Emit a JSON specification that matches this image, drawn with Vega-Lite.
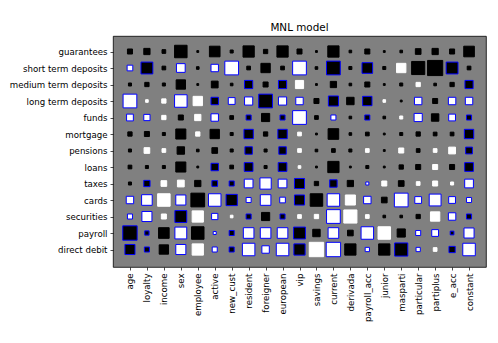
{
"$schema":"https://vega.github.io/schema/vega-lite/v6.json",
"width":373,"height":231,
"padding":{"left":9,"top":22,"right":12,"bottom":0},
"background":"white",
"title":{"text":"MNL model","fontSize":10.4,"fontWeight":"normal","font":"DejaVu Sans","color":"black","offset":3},
"config":{
 "view":{"fill":"#808080","stroke":"black","strokeWidth":0.8},
 "axis":{"domain":false,"grid":false,"ticks":true,"tickSize":3,"tickColor":"black","tickWidth":0.7,"labelFont":"DejaVu Sans","labelFontSize":8.64,"labelColor":"black","labelPadding":3,"title":null}
},
"data":{"values":[
{"r":"guarantees","c":"age","w":0.11,"s":"-","g":0},
{"r":"guarantees","c":"loyalty","w":0.17,"s":"-","g":0},
{"r":"guarantees","c":"income","w":0.06,"s":"-","g":0},
{"r":"guarantees","c":"sex","w":0.68,"s":"-","g":0},
{"r":"guarantees","c":"employee","w":0.015,"s":"-","g":0},
{"r":"guarantees","c":"active","w":0.49,"s":"-","g":0},
{"r":"guarantees","c":"new_cust","w":0.04,"s":"-","g":0},
{"r":"guarantees","c":"resident","w":0.55,"s":"-","g":0},
{"r":"guarantees","c":"foreigner","w":0.08,"s":"-","g":0},
{"r":"guarantees","c":"european","w":0.55,"s":"-","g":0},
{"r":"guarantees","c":"vip","w":0.11,"s":"-","g":0},
{"r":"guarantees","c":"savings","w":0.015,"s":"-","g":0},
{"r":"guarantees","c":"current","w":0.55,"s":"-","g":0},
{"r":"guarantees","c":"derivada","w":0.03,"s":"-","g":0},
{"r":"guarantees","c":"payroll_acc","w":0.11,"s":"-","g":0},
{"r":"guarantees","c":"junior","w":0.015,"s":"-","g":0},
{"r":"guarantees","c":"masparti","w":0.03,"s":"-","g":0},
{"r":"guarantees","c":"particular","w":0.14,"s":"-","g":0},
{"r":"guarantees","c":"partiplus","w":0.17,"s":"-","g":0},
{"r":"guarantees","c":"e_acc","w":0.11,"s":"-","g":0},
{"r":"guarantees","c":"constant","w":0.49,"s":"-","g":0},
{"r":"short term deposits","c":"age","w":0.14,"s":"+","g":1},
{"r":"short term deposits","c":"loyalty","w":0.61,"s":"-","g":1},
{"r":"short term deposits","c":"income","w":0.06,"s":"-","g":0},
{"r":"short term deposits","c":"sex","w":0.33,"s":"+","g":1},
{"r":"short term deposits","c":"employee","w":0.03,"s":"-","g":0},
{"r":"short term deposits","c":"active","w":0.24,"s":"+","g":1},
{"r":"short term deposits","c":"new_cust","w":0.82,"s":"+","g":1},
{"r":"short term deposits","c":"resident","w":0.06,"s":"-","g":0},
{"r":"short term deposits","c":"foreigner","w":0.38,"s":"-","g":0},
{"r":"short term deposits","c":"european","w":0.06,"s":"-","g":0},
{"r":"short term deposits","c":"vip","w":0.82,"s":"+","g":1},
{"r":"short term deposits","c":"savings","w":0.03,"s":"-","g":0},
{"r":"short term deposits","c":"current","w":0.82,"s":"-","g":1},
{"r":"short term deposits","c":"derivada","w":0.04,"s":"-","g":0},
{"r":"short term deposits","c":"payroll_acc","w":0.49,"s":"-","g":1},
{"r":"short term deposits","c":"junior","w":0.04,"s":"-","g":0},
{"r":"short term deposits","c":"masparti","w":0.38,"s":"+","g":0},
{"r":"short term deposits","c":"particular","w":0.75,"s":"-","g":0},
{"r":"short term deposits","c":"partiplus","w":1.0,"s":"-","g":0},
{"r":"short term deposits","c":"e_acc","w":0.61,"s":"-","g":1},
{"r":"short term deposits","c":"constant","w":0.06,"s":"-","g":0},
{"r":"medium term deposits","c":"age","w":0.04,"s":"-","g":0},
{"r":"medium term deposits","c":"loyalty","w":0.08,"s":"-","g":0},
{"r":"medium term deposits","c":"income","w":0.04,"s":"-","g":0},
{"r":"medium term deposits","c":"sex","w":0.38,"s":"-","g":0},
{"r":"medium term deposits","c":"employee","w":0.015,"s":"-","g":0},
{"r":"medium term deposits","c":"active","w":0.2,"s":"-","g":0},
{"r":"medium term deposits","c":"new_cust","w":0.03,"s":"-","g":0},
{"r":"medium term deposits","c":"resident","w":0.29,"s":"-","g":1},
{"r":"medium term deposits","c":"foreigner","w":0.11,"s":"-","g":0},
{"r":"medium term deposits","c":"european","w":0.29,"s":"-","g":1},
{"r":"medium term deposits","c":"vip","w":0.29,"s":"+","g":0},
{"r":"medium term deposits","c":"savings","w":0.015,"s":"-","g":0},
{"r":"medium term deposits","c":"current","w":0.17,"s":"-","g":0},
{"r":"medium term deposits","c":"derivada","w":0.03,"s":"-","g":0},
{"r":"medium term deposits","c":"payroll_acc","w":0.11,"s":"-","g":0},
{"r":"medium term deposits","c":"junior","w":0.015,"s":"-","g":0},
{"r":"medium term deposits","c":"masparti","w":0.04,"s":"-","g":0},
{"r":"medium term deposits","c":"particular","w":0.08,"s":"+","g":0},
{"r":"medium term deposits","c":"partiplus","w":0.03,"s":"-","g":0},
{"r":"medium term deposits","c":"e_acc","w":0.08,"s":"-","g":0},
{"r":"medium term deposits","c":"constant","w":0.29,"s":"-","g":1},
{"r":"long term deposits","c":"age","w":0.82,"s":"+","g":1},
{"r":"long term deposits","c":"loyalty","w":0.03,"s":"+","g":0},
{"r":"long term deposits","c":"income","w":0.08,"s":"+","g":0},
{"r":"long term deposits","c":"sex","w":0.68,"s":"+","g":1},
{"r":"long term deposits","c":"employee","w":0.38,"s":"+","g":0},
{"r":"long term deposits","c":"active","w":0.24,"s":"-","g":1},
{"r":"long term deposits","c":"new_cust","w":0.2,"s":"+","g":1},
{"r":"long term deposits","c":"resident","w":0.29,"s":"+","g":1},
{"r":"long term deposits","c":"foreigner","w":0.82,"s":"-","g":1},
{"r":"long term deposits","c":"european","w":0.29,"s":"+","g":1},
{"r":"long term deposits","c":"vip","w":0.24,"s":"+","g":1},
{"r":"long term deposits","c":"savings","w":0.11,"s":"-","g":0},
{"r":"long term deposits","c":"current","w":0.44,"s":"-","g":1},
{"r":"long term deposits","c":"derivada","w":0.24,"s":"-","g":0},
{"r":"long term deposits","c":"payroll_acc","w":0.38,"s":"-","g":1},
{"r":"long term deposits","c":"junior","w":0.03,"s":"+","g":0},
{"r":"long term deposits","c":"masparti","w":0.015,"s":"-","g":0},
{"r":"long term deposits","c":"particular","w":0.24,"s":"+","g":1},
{"r":"long term deposits","c":"partiplus","w":0.11,"s":"-","g":0},
{"r":"long term deposits","c":"e_acc","w":0.24,"s":"+","g":1},
{"r":"long term deposits","c":"constant","w":0.24,"s":"+","g":1},
{"r":"funds","c":"age","w":0.2,"s":"+","g":1},
{"r":"funds","c":"loyalty","w":0.17,"s":"+","g":1},
{"r":"funds","c":"income","w":0.08,"s":"+","g":0},
{"r":"funds","c":"sex","w":0.11,"s":"-","g":0},
{"r":"funds","c":"employee","w":0.17,"s":"+","g":0},
{"r":"funds","c":"active","w":0.24,"s":"+","g":1},
{"r":"funds","c":"new_cust","w":0.06,"s":"-","g":0},
{"r":"funds","c":"resident","w":0.11,"s":"-","g":1},
{"r":"funds","c":"foreigner","w":0.29,"s":"-","g":0},
{"r":"funds","c":"european","w":0.11,"s":"-","g":1},
{"r":"funds","c":"vip","w":0.82,"s":"+","g":1},
{"r":"funds","c":"savings","w":0.06,"s":"-","g":0},
{"r":"funds","c":"current","w":0.11,"s":"+","g":1},
{"r":"funds","c":"derivada","w":0.03,"s":"-","g":0},
{"r":"funds","c":"payroll_acc","w":0.11,"s":"-","g":1},
{"r":"funds","c":"junior","w":0.03,"s":"-","g":0},
{"r":"funds","c":"masparti","w":0.04,"s":"+","g":0},
{"r":"funds","c":"particular","w":0.29,"s":"+","g":1},
{"r":"funds","c":"partiplus","w":0.24,"s":"-","g":0},
{"r":"funds","c":"e_acc","w":0.2,"s":"+","g":1},
{"r":"funds","c":"constant","w":0.11,"s":"-","g":1},
{"r":"mortgage","c":"age","w":0.08,"s":"-","g":0},
{"r":"mortgage","c":"loyalty","w":0.11,"s":"-","g":0},
{"r":"mortgage","c":"income","w":0.04,"s":"-","g":0},
{"r":"mortgage","c":"sex","w":0.44,"s":"-","g":0},
{"r":"mortgage","c":"employee","w":0.08,"s":"+","g":0},
{"r":"mortgage","c":"active","w":0.38,"s":"-","g":0},
{"r":"mortgage","c":"new_cust","w":0.04,"s":"-","g":0},
{"r":"mortgage","c":"resident","w":0.38,"s":"-","g":1},
{"r":"mortgage","c":"foreigner","w":0.08,"s":"-","g":0},
{"r":"mortgage","c":"european","w":0.38,"s":"-","g":1},
{"r":"mortgage","c":"vip","w":0.06,"s":"+","g":0},
{"r":"mortgage","c":"savings","w":0.015,"s":"-","g":0},
{"r":"mortgage","c":"current","w":0.49,"s":"-","g":0},
{"r":"mortgage","c":"derivada","w":0.03,"s":"-","g":0},
{"r":"mortgage","c":"payroll_acc","w":0.06,"s":"-","g":0},
{"r":"mortgage","c":"junior","w":0.015,"s":"-","g":0},
{"r":"mortgage","c":"masparti","w":0.04,"s":"-","g":0},
{"r":"mortgage","c":"particular","w":0.08,"s":"-","g":0},
{"r":"mortgage","c":"partiplus","w":0.06,"s":"-","g":0},
{"r":"mortgage","c":"e_acc","w":0.06,"s":"-","g":0},
{"r":"mortgage","c":"constant","w":0.38,"s":"-","g":1},
{"r":"pensions","c":"age","w":0.04,"s":"-","g":0},
{"r":"pensions","c":"loyalty","w":0.14,"s":"+","g":0},
{"r":"pensions","c":"income","w":0.06,"s":"+","g":0},
{"r":"pensions","c":"sex","w":0.24,"s":"-","g":0},
{"r":"pensions","c":"employee","w":0.03,"s":"-","g":0},
{"r":"pensions","c":"active","w":0.14,"s":"-","g":0},
{"r":"pensions","c":"new_cust","w":0.04,"s":"-","g":0},
{"r":"pensions","c":"resident","w":0.24,"s":"-","g":1},
{"r":"pensions","c":"foreigner","w":0.04,"s":"-","g":0},
{"r":"pensions","c":"european","w":0.24,"s":"-","g":1},
{"r":"pensions","c":"vip","w":0.06,"s":"+","g":0},
{"r":"pensions","c":"savings","w":0.03,"s":"-","g":0},
{"r":"pensions","c":"current","w":0.06,"s":"-","g":0},
{"r":"pensions","c":"derivada","w":0.04,"s":"-","g":0},
{"r":"pensions","c":"payroll_acc","w":0.06,"s":"+","g":0},
{"r":"pensions","c":"junior","w":0.015,"s":"-","g":0},
{"r":"pensions","c":"masparti","w":0.11,"s":"+","g":0},
{"r":"pensions","c":"particular","w":0.06,"s":"-","g":0},
{"r":"pensions","c":"partiplus","w":0.06,"s":"+","g":0},
{"r":"pensions","c":"e_acc","w":0.2,"s":"+","g":0},
{"r":"pensions","c":"constant","w":0.2,"s":"-","g":1},
{"r":"loans","c":"age","w":0.06,"s":"-","g":0},
{"r":"loans","c":"loyalty","w":0.04,"s":"-","g":0},
{"r":"loans","c":"income","w":0.04,"s":"-","g":0},
{"r":"loans","c":"sex","w":0.44,"s":"-","g":0},
{"r":"loans","c":"employee","w":0.015,"s":"-","g":0},
{"r":"loans","c":"active","w":0.24,"s":"-","g":1},
{"r":"loans","c":"new_cust","w":0.06,"s":"-","g":0},
{"r":"loans","c":"resident","w":0.33,"s":"-","g":1},
{"r":"loans","c":"foreigner","w":0.04,"s":"-","g":0},
{"r":"loans","c":"european","w":0.33,"s":"-","g":1},
{"r":"loans","c":"vip","w":0.03,"s":"+","g":0},
{"r":"loans","c":"savings","w":0.015,"s":"-","g":0},
{"r":"loans","c":"current","w":0.55,"s":"-","g":0},
{"r":"loans","c":"derivada","w":0.015,"s":"-","g":0},
{"r":"loans","c":"payroll_acc","w":0.04,"s":"-","g":0},
{"r":"loans","c":"junior","w":0.015,"s":"-","g":0},
{"r":"loans","c":"masparti","w":0.08,"s":"-","g":0},
{"r":"loans","c":"particular","w":0.11,"s":"-","g":0},
{"r":"loans","c":"partiplus","w":0.11,"s":"+","g":0},
{"r":"loans","c":"e_acc","w":0.11,"s":"-","g":0},
{"r":"loans","c":"constant","w":0.33,"s":"-","g":1},
{"r":"taxes","c":"age","w":0.04,"s":"-","g":0},
{"r":"taxes","c":"loyalty","w":0.17,"s":"-","g":1},
{"r":"taxes","c":"income","w":0.14,"s":"+","g":0},
{"r":"taxes","c":"sex","w":0.2,"s":"+","g":0},
{"r":"taxes","c":"employee","w":0.17,"s":"-","g":0},
{"r":"taxes","c":"active","w":0.14,"s":"-","g":1},
{"r":"taxes","c":"new_cust","w":0.11,"s":"-","g":1},
{"r":"taxes","c":"resident","w":0.33,"s":"+","g":1},
{"r":"taxes","c":"foreigner","w":0.55,"s":"+","g":1},
{"r":"taxes","c":"european","w":0.33,"s":"+","g":1},
{"r":"taxes","c":"vip","w":0.44,"s":"-","g":1},
{"r":"taxes","c":"savings","w":0.08,"s":"-","g":0},
{"r":"taxes","c":"current","w":0.24,"s":"-","g":1},
{"r":"taxes","c":"derivada","w":0.17,"s":"-","g":0},
{"r":"taxes","c":"payroll_acc","w":0.04,"s":"+","g":1},
{"r":"taxes","c":"junior","w":0.11,"s":"+","g":0},
{"r":"taxes","c":"masparti","w":0.14,"s":"-","g":0},
{"r":"taxes","c":"particular","w":0.06,"s":"+","g":0},
{"r":"taxes","c":"partiplus","w":0.11,"s":"+","g":0},
{"r":"taxes","c":"e_acc","w":0.04,"s":"+","g":0},
{"r":"taxes","c":"constant","w":0.33,"s":"+","g":1},
{"r":"cards","c":"age","w":0.24,"s":"+","g":1},
{"r":"cards","c":"loyalty","w":0.49,"s":"+","g":1},
{"r":"cards","c":"income","w":0.68,"s":"+","g":0},
{"r":"cards","c":"sex","w":0.44,"s":"+","g":1},
{"r":"cards","c":"employee","w":0.82,"s":"-","g":0},
{"r":"cards","c":"active","w":0.68,"s":"+","g":1},
{"r":"cards","c":"new_cust","w":0.55,"s":"-","g":1},
{"r":"cards","c":"resident","w":0.11,"s":"+","g":1},
{"r":"cards","c":"foreigner","w":0.49,"s":"+","g":1},
{"r":"cards","c":"european","w":0.14,"s":"+","g":1},
{"r":"cards","c":"vip","w":0.44,"s":"-","g":1},
{"r":"cards","c":"savings","w":0.68,"s":"-","g":0},
{"r":"cards","c":"current","w":0.68,"s":"+","g":1},
{"r":"cards","c":"derivada","w":0.44,"s":"+","g":0},
{"r":"cards","c":"payroll_acc","w":0.24,"s":"+","g":1},
{"r":"cards","c":"junior","w":0.14,"s":"-","g":0},
{"r":"cards","c":"masparti","w":0.82,"s":"+","g":1},
{"r":"cards","c":"particular","w":0.2,"s":"+","g":1},
{"r":"cards","c":"partiplus","w":0.61,"s":"+","g":1},
{"r":"cards","c":"e_acc","w":0.2,"s":"+","g":1},
{"r":"cards","c":"constant","w":0.11,"s":"+","g":1},
{"r":"securities","c":"age","w":0.11,"s":"+","g":1},
{"r":"securities","c":"loyalty","w":0.44,"s":"+","g":1},
{"r":"securities","c":"income","w":0.11,"s":"+","g":0},
{"r":"securities","c":"sex","w":0.61,"s":"-","g":1},
{"r":"securities","c":"employee","w":0.55,"s":"+","g":0},
{"r":"securities","c":"active","w":0.17,"s":"+","g":1},
{"r":"securities","c":"new_cust","w":0.03,"s":"+","g":0},
{"r":"securities","c":"resident","w":0.11,"s":"-","g":1},
{"r":"securities","c":"foreigner","w":0.29,"s":"-","g":0},
{"r":"securities","c":"european","w":0.11,"s":"-","g":1},
{"r":"securities","c":"vip","w":0.06,"s":"+","g":0},
{"r":"securities","c":"savings","w":0.08,"s":"+","g":0},
{"r":"securities","c":"current","w":0.82,"s":"+","g":1},
{"r":"securities","c":"derivada","w":0.75,"s":"+","g":0},
{"r":"securities","c":"payroll_acc","w":0.06,"s":"+","g":0},
{"r":"securities","c":"junior","w":0.03,"s":"-","g":0},
{"r":"securities","c":"masparti","w":0.03,"s":"-","g":0},
{"r":"securities","c":"particular","w":0.08,"s":"-","g":0},
{"r":"securities","c":"partiplus","w":0.38,"s":"+","g":0},
{"r":"securities","c":"e_acc","w":0.24,"s":"+","g":1},
{"r":"securities","c":"constant","w":0.11,"s":"-","g":1},
{"r":"payroll","c":"age","w":0.9,"s":"-","g":1},
{"r":"payroll","c":"loyalty","w":0.08,"s":"-","g":1},
{"r":"payroll","c":"income","w":0.49,"s":"-","g":0},
{"r":"payroll","c":"sex","w":0.61,"s":"+","g":1},
{"r":"payroll","c":"employee","w":0.68,"s":"-","g":0},
{"r":"payroll","c":"active","w":0.04,"s":"+","g":1},
{"r":"payroll","c":"new_cust","w":0.11,"s":"-","g":1},
{"r":"payroll","c":"resident","w":0.49,"s":"+","g":1},
{"r":"payroll","c":"foreigner","w":0.49,"s":"+","g":1},
{"r":"payroll","c":"european","w":0.49,"s":"+","g":1},
{"r":"payroll","c":"vip","w":0.61,"s":"-","g":1},
{"r":"payroll","c":"savings","w":0.24,"s":"-","g":0},
{"r":"payroll","c":"current","w":0.49,"s":"+","g":1},
{"r":"payroll","c":"derivada","w":0.14,"s":"-","g":0},
{"r":"payroll","c":"payroll_acc","w":0.68,"s":"+","g":1},
{"r":"payroll","c":"junior","w":0.68,"s":"+","g":0},
{"r":"payroll","c":"masparti","w":0.29,"s":"-","g":0},
{"r":"payroll","c":"particular","w":0.11,"s":"+","g":1},
{"r":"payroll","c":"partiplus","w":0.2,"s":"+","g":1},
{"r":"payroll","c":"e_acc","w":0.06,"s":"-","g":1},
{"r":"payroll","c":"constant","w":0.44,"s":"+","g":1},
{"r":"direct debit","c":"age","w":0.44,"s":"-","g":1},
{"r":"direct debit","c":"loyalty","w":0.11,"s":"-","g":1},
{"r":"direct debit","c":"income","w":0.38,"s":"-","g":0},
{"r":"direct debit","c":"sex","w":0.44,"s":"+","g":1},
{"r":"direct debit","c":"employee","w":0.55,"s":"+","g":0},
{"r":"direct debit","c":"active","w":0.11,"s":"+","g":1},
{"r":"direct debit","c":"new_cust","w":0.11,"s":"-","g":1},
{"r":"direct debit","c":"resident","w":0.68,"s":"+","g":1},
{"r":"direct debit","c":"foreigner","w":0.24,"s":"+","g":1},
{"r":"direct debit","c":"european","w":0.68,"s":"+","g":1},
{"r":"direct debit","c":"vip","w":0.55,"s":"-","g":1},
{"r":"direct debit","c":"savings","w":0.9,"s":"+","g":0},
{"r":"direct debit","c":"current","w":0.9,"s":"+","g":1},
{"r":"direct debit","c":"derivada","w":0.55,"s":"-","g":0},
{"r":"direct debit","c":"payroll_acc","w":0.08,"s":"+","g":1},
{"r":"direct debit","c":"junior","w":0.55,"s":"-","g":0},
{"r":"direct debit","c":"masparti","w":0.75,"s":"-","g":1},
{"r":"direct debit","c":"particular","w":0.08,"s":"+","g":1},
{"r":"direct debit","c":"partiplus","w":0.06,"s":"+","g":0},
{"r":"direct debit","c":"e_acc","w":0.17,"s":"-","g":1},
{"r":"direct debit","c":"constant","w":0.68,"s":"+","g":1}
]},
"mark":{"type":"square","strokeWidth":1,"opacity":1,"filled":true},
"encoding":{
 "x":{"field":"c","type":"nominal","sort":["age","loyalty","income","sex","employee","active","new_cust","resident","foreigner","european","vip","savings","current","derivada","payroll_acc","junior","masparti","particular","partiplus","e_acc","constant"],"scale":{"type":"point","padding":1.53},"axis":{"labelAngle":-90,"labelOverlap":false}},
 "y":{"field":"r","type":"nominal","sort":["guarantees","short term deposits","medium term deposits","long term deposits","funds","mortgage","pensions","loans","taxes","cards","securities","payroll","direct debit"],"scale":{"type":"point","padding":1.157,"align":0.47},"axis":{"labelOverlap":false}},
 "size":{"field":"w","type":"quantitative","scale":{"domain":[0,1],"range":[0,230],"zero":true},"legend":null},
 "fill":{"field":"s","type":"nominal","scale":{"domain":["+","-"],"range":["white","black"]},"legend":null},
 "stroke":{"condition":{"test":"datum.g == 1","value":"blue"},"field":"s","type":"nominal","scale":{"domain":["+","-"],"range":["white","black"]},"legend":null}
}
}
